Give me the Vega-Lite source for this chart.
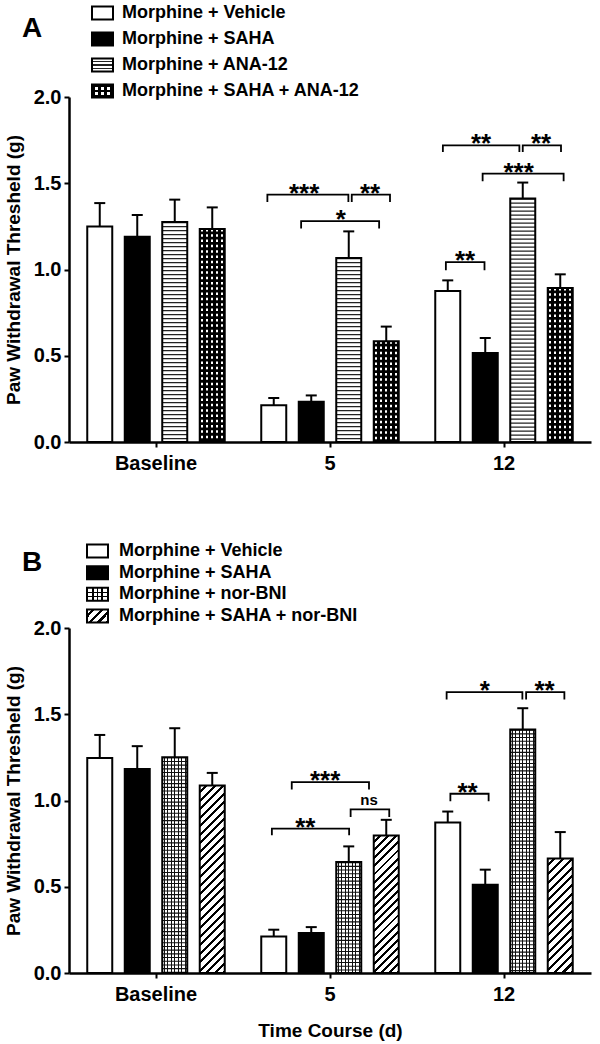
{
  "$schema": "https://vega.github.io/schema/vega-lite/v6.json",
  "background": "white",
  "padding": {"left": 4, "top": 2, "right": 5, "bottom": 3},
  "config": {
    "font": "Liberation Sans",
    "view": {"stroke": null},
    "axis": {"domainColor": "black", "domainWidth": 2.5, "tickColor": "black", "tickWidth": 2, "tickSize": 5, "labelColor": "black", "labelFont": "Liberation Sans", "labelFontSize": 20, "labelFontWeight": "bold", "titleFont": "Liberation Sans", "titleFontSize": 19, "titleFontWeight": "bold", "titleColor": "black", "grid": false, "labelPadding": 3}
  },
  "datasets": {
    "barsA": [
      {"time": "Baseline", "group": "Morphine + Vehicle", "mean": 1.25, "upper": 1.385},
      {"time": "Baseline", "group": "Morphine + SAHA", "mean": 1.19, "upper": 1.316},
      {"time": "Baseline", "group": "Morphine + ANA-12", "mean": 1.275, "upper": 1.405},
      {"time": "Baseline", "group": "Morphine + SAHA + ANA-12", "mean": 1.235, "upper": 1.36},
      {"time": "5", "group": "Morphine + Vehicle", "mean": 0.213, "upper": 0.255},
      {"time": "5", "group": "Morphine + SAHA", "mean": 0.234, "upper": 0.27},
      {"time": "5", "group": "Morphine + ANA-12", "mean": 1.067, "upper": 1.221},
      {"time": "5", "group": "Morphine + SAHA + ANA-12", "mean": 0.584, "upper": 0.669},
      {"time": "12", "group": "Morphine + Vehicle", "mean": 0.875, "upper": 0.937},
      {"time": "12", "group": "Morphine + SAHA", "mean": 0.516, "upper": 0.603},
      {"time": "12", "group": "Morphine + ANA-12", "mean": 1.411, "upper": 1.504},
      {"time": "12", "group": "Morphine + SAHA + ANA-12", "mean": 0.893, "upper": 0.972}
    ],
    "barsB": [
      {"time": "Baseline", "group": "Morphine + Vehicle", "mean": 1.247, "upper": 1.38},
      {"time": "Baseline", "group": "Morphine + SAHA", "mean": 1.183, "upper": 1.315},
      {"time": "Baseline", "group": "Morphine + nor-BNI", "mean": 1.251, "upper": 1.419},
      {"time": "Baseline", "group": "Morphine + SAHA + nor-BNI", "mean": 1.087, "upper": 1.16},
      {"time": "5", "group": "Morphine + Vehicle", "mean": 0.212, "upper": 0.251},
      {"time": "5", "group": "Morphine + SAHA", "mean": 0.232, "upper": 0.266},
      {"time": "5", "group": "Morphine + nor-BNI", "mean": 0.643, "upper": 0.734},
      {"time": "5", "group": "Morphine + SAHA + nor-BNI", "mean": 0.797, "upper": 0.888},
      {"time": "12", "group": "Morphine + Vehicle", "mean": 0.873, "upper": 0.936},
      {"time": "12", "group": "Morphine + SAHA", "mean": 0.512, "upper": 0.599},
      {"time": "12", "group": "Morphine + nor-BNI", "mean": 1.411, "upper": 1.535},
      {"time": "12", "group": "Morphine + SAHA + nor-BNI", "mean": 0.664, "upper": 0.817}
    ],
    "bracketsA": [
      {"id": "A1", "time": "5", "s": 0.83, "y": 1.391, "k": 1}, {"id": "A1", "time": "5", "s": 0.83, "y": 1.434, "k": 2}, {"id": "A1", "time": "5", "s": 2.99, "y": 1.434, "k": 3}, {"id": "A1", "time": "5", "s": 2.99, "y": 1.391, "k": 4},
      {"id": "A2", "time": "5", "s": 3.08, "y": 1.391, "k": 1}, {"id": "A2", "time": "5", "s": 3.08, "y": 1.434, "k": 2}, {"id": "A2", "time": "5", "s": 4.1, "y": 1.434, "k": 3}, {"id": "A2", "time": "5", "s": 4.1, "y": 1.391, "k": 4},
      {"id": "A3", "time": "5", "s": 1.73, "y": 1.237, "k": 1}, {"id": "A3", "time": "5", "s": 1.73, "y": 1.281, "k": 2}, {"id": "A3", "time": "5", "s": 3.81, "y": 1.281, "k": 3}, {"id": "A3", "time": "5", "s": 3.81, "y": 1.237, "k": 4},
      {"id": "A4", "time": "12", "s": 0.95, "y": 0.995, "k": 1}, {"id": "A4", "time": "12", "s": 0.95, "y": 1.043, "k": 2}, {"id": "A4", "time": "12", "s": 1.98, "y": 1.043, "k": 3}, {"id": "A4", "time": "12", "s": 1.98, "y": 0.995, "k": 4},
      {"id": "A5", "time": "12", "s": 0.87, "y": 1.681, "k": 1}, {"id": "A5", "time": "12", "s": 0.87, "y": 1.72, "k": 2}, {"id": "A5", "time": "12", "s": 2.91, "y": 1.72, "k": 3}, {"id": "A5", "time": "12", "s": 2.91, "y": 1.681, "k": 4},
      {"id": "A6", "time": "12", "s": 3.0, "y": 1.681, "k": 1}, {"id": "A6", "time": "12", "s": 3.0, "y": 1.72, "k": 2}, {"id": "A6", "time": "12", "s": 4.02, "y": 1.72, "k": 3}, {"id": "A6", "time": "12", "s": 4.02, "y": 1.681, "k": 4},
      {"id": "A7", "time": "12", "s": 1.93, "y": 1.511, "k": 1}, {"id": "A7", "time": "12", "s": 1.93, "y": 1.556, "k": 2}, {"id": "A7", "time": "12", "s": 4.09, "y": 1.556, "k": 3}, {"id": "A7", "time": "12", "s": 4.09, "y": 1.511, "k": 4}
    ],
    "labelsA": [
      {"time": "5", "s": 1.81, "y": 1.434, "label": "***"},
      {"time": "5", "s": 3.57, "y": 1.434, "label": "**"},
      {"time": "5", "s": 2.79, "y": 1.281, "label": "*"},
      {"time": "12", "s": 1.46, "y": 1.043, "label": "**"},
      {"time": "12", "s": 1.89, "y": 1.72, "label": "**"},
      {"time": "12", "s": 3.49, "y": 1.72, "label": "**"},
      {"time": "12", "s": 2.89, "y": 1.556, "label": "***"}
    ],
    "bracketsB": [
      {"id": "B1", "time": "5", "s": 0.95, "y": 0.798, "k": 1}, {"id": "B1", "time": "5", "s": 0.95, "y": 0.837, "k": 2}, {"id": "B1", "time": "5", "s": 3.01, "y": 0.837, "k": 3}, {"id": "B1", "time": "5", "s": 3.01, "y": 0.798, "k": 4},
      {"id": "B2", "time": "5", "s": 1.48, "y": 1.064, "k": 1}, {"id": "B2", "time": "5", "s": 1.48, "y": 1.107, "k": 2}, {"id": "B2", "time": "5", "s": 3.54, "y": 1.107, "k": 3}, {"id": "B2", "time": "5", "s": 3.54, "y": 1.064, "k": 4},
      {"id": "B3", "time": "5", "s": 3.05, "y": 0.904, "k": 1}, {"id": "B3", "time": "5", "s": 3.05, "y": 0.948, "k": 2}, {"id": "B3", "time": "5", "s": 4.08, "y": 0.948, "k": 3}, {"id": "B3", "time": "5", "s": 4.08, "y": 0.904, "k": 4},
      {"id": "B4", "time": "12", "s": 1.07, "y": 0.995, "k": 1}, {"id": "B4", "time": "12", "s": 1.07, "y": 1.039, "k": 2}, {"id": "B4", "time": "12", "s": 2.09, "y": 1.039, "k": 3}, {"id": "B4", "time": "12", "s": 2.09, "y": 0.995, "k": 4},
      {"id": "B5", "time": "12", "s": 0.97, "y": 1.586, "k": 1}, {"id": "B5", "time": "12", "s": 0.97, "y": 1.628, "k": 2}, {"id": "B5", "time": "12", "s": 2.99, "y": 1.628, "k": 3}, {"id": "B5", "time": "12", "s": 2.99, "y": 1.586, "k": 4},
      {"id": "B6", "time": "12", "s": 3.09, "y": 1.586, "k": 1}, {"id": "B6", "time": "12", "s": 3.09, "y": 1.628, "k": 2}, {"id": "B6", "time": "12", "s": 4.11, "y": 1.628, "k": 3}, {"id": "B6", "time": "12", "s": 4.11, "y": 1.586, "k": 4}
    ],
    "labelsB": [
      {"time": "5", "s": 1.84, "y": 0.837, "label": "**"},
      {"time": "5", "s": 2.37, "y": 1.107, "label": "***"},
      {"time": "5", "s": 3.54, "y": 0.948, "label": "ns"},
      {"time": "12", "s": 1.53, "y": 1.039, "label": "**"},
      {"time": "12", "s": 1.99, "y": 1.628, "label": "*"},
      {"time": "12", "s": 3.58, "y": 1.628, "label": "**"}
    ],
    "legendA": [
      {"group": "Morphine + Vehicle"}, {"group": "Morphine + SAHA"}, {"group": "Morphine + ANA-12"}, {"group": "Morphine + SAHA + ANA-12"}
    ],
    "legendB": [
      {"group": "Morphine + Vehicle"}, {"group": "Morphine + SAHA"}, {"group": "Morphine + nor-BNI"}, {"group": "Morphine + SAHA + nor-BNI"}
    ],
    "letterA": [{"letter": "A"}],
    "letterB": [{"letter": "B"}]
  },
  "bounds": "flush",
  "spacing": 6,
  "resolve": {"scale": {"xOffset": "independent"}},
  "vconcat": [
    {
      "width": 67,
      "height": 78,
      "layer": [
        {
          "data": {"name": "legendA"},
          "mark": {"type": "point", "shape": "M-1,-0.62L1,-0.62L1,0.62L-1,0.62Z", "size": 441, "filled": true, "opacity": 1, "strokeWidth": 0},
          "encoding": {
            "y": {"field": "group", "type": "nominal", "scale": {"type": "point", "padding": 0, "domain": ["Morphine + Vehicle", "Morphine + SAHA", "Morphine + ANA-12", "Morphine + SAHA + ANA-12"]}, "axis": null},
            "fill": {"condition": {"test": "datum.group === 'Morphine + SAHA' || datum.group === 'Morphine + SAHA + ANA-12'", "value": "black"}, "value": "white"}
          }
        },
        {
          "data": {"name": "legendA"},
          "transform": [{"filter": "datum.group === 'Morphine + ANA-12'"}],
          "mark": {"type": "point", "shape": "M-1,-0.62L1,-0.62L1,0.62L-1,0.62Z", "size": 441, "filled": true, "opacity": 1, "strokeWidth": 0,
            "fill": {"gradient": "linear", "x1": 0, "y1": 0, "x2": 0, "y2": 1, "stops": [
              {"offset": 0, "color": "#fff"}, {"offset": 0.21, "color": "#fff"}, {"offset": 0.21, "color": "#222"}, {"offset": 0.3, "color": "#222"}, {"offset": 0.3, "color": "#fff"},
              {"offset": 0.46, "color": "#fff"}, {"offset": 0.46, "color": "#222"}, {"offset": 0.55, "color": "#222"}, {"offset": 0.55, "color": "#fff"},
              {"offset": 0.71, "color": "#fff"}, {"offset": 0.71, "color": "#222"}, {"offset": 0.8, "color": "#222"}, {"offset": 0.8, "color": "#fff"}, {"offset": 1, "color": "#fff"}]}},
          "encoding": {"y": {"field": "group", "type": "nominal", "axis": null}}
        },
        {
          "data": {"name": "legendA"},
          "transform": [{"filter": "datum.group === 'Morphine + SAHA + ANA-12'"}],
          "mark": {"type": "point", "shape": "M-1,-0.62L1,-0.62L1,0.62L-1,0.62Z", "size": 441, "filled": true, "opacity": 1, "strokeWidth": 0,
            "fill": {"gradient": "linear", "x1": 0, "y1": 0, "x2": 0, "y2": 1, "stops": [
              {"offset": 0, "color": "#000"}, {"offset": 0.22, "color": "#000"}, {"offset": 0.22, "color": "#fff"}, {"offset": 0.42, "color": "#fff"}, {"offset": 0.42, "color": "#000"},
              {"offset": 0.58, "color": "#000"}, {"offset": 0.58, "color": "#fff"}, {"offset": 0.78, "color": "#fff"}, {"offset": 0.78, "color": "#000"}, {"offset": 1, "color": "#000"}]}},
          "encoding": {"y": {"field": "group", "type": "nominal", "axis": null}}
        },
        {
          "data": {"name": "legendA"},
          "transform": [{"filter": "datum.group === 'Morphine + SAHA + ANA-12'"}],
          "mark": {"type": "point", "shape": "M-1,-0.62L1,-0.62L1,0.62L-1,0.62Z", "size": 441, "filled": true, "opacity": 1, "strokeWidth": 0,
            "fill": {"gradient": "linear", "x1": 0, "y1": 0, "x2": 1, "y2": 0, "stops": [
              {"offset": 0, "color": "#000"}, {"offset": 0.15, "color": "#000"}, {"offset": 0.15, "color": "rgba(0,0,0,0)"}, {"offset": 0.3, "color": "rgba(0,0,0,0)"}, {"offset": 0.3, "color": "#000"},
              {"offset": 0.43, "color": "#000"}, {"offset": 0.43, "color": "rgba(0,0,0,0)"}, {"offset": 0.57, "color": "rgba(0,0,0,0)"}, {"offset": 0.57, "color": "#000"},
              {"offset": 0.7, "color": "#000"}, {"offset": 0.7, "color": "rgba(0,0,0,0)"}, {"offset": 0.85, "color": "rgba(0,0,0,0)"}, {"offset": 0.85, "color": "#000"}, {"offset": 1, "color": "#000"}]}},
          "encoding": {"y": {"field": "group", "type": "nominal", "axis": null}}
        },
        {
          "data": {"name": "legendA"},
          "mark": {"type": "point", "shape": "M-1,-0.62L1,-0.62L1,0.62L-1,0.62Z", "size": 441, "filled": false, "opacity": 1, "stroke": "black", "strokeWidth": 2},
          "encoding": {"y": {"field": "group", "type": "nominal", "axis": null}}
        },
        {
          "data": {"name": "legendA"},
          "mark": {"type": "text", "align": "left", "baseline": "middle", "dx": 19.5, "fontSize": 18, "fontWeight": "bold", "color": "black"},
          "encoding": {"y": {"field": "group", "type": "nominal", "axis": null}, "text": {"field": "group"}}
        },
        {
          "data": {"name": "letterA"},
          "mark": {"type": "text", "align": "center", "baseline": "middle", "dx": -70.5, "dy": -23, "fontSize": 28, "fontWeight": "bold", "color": "black"},
          "encoding": {"text": {"field": "letter"}}
        }
      ]
    },
    {
      "width": 522,
      "height": 345,
      "resolve": {"scale": {"xOffset": "independent"}},
      "encoding": {
        "x": {"field": "time", "type": "nominal", "scale": {"domain": ["Baseline", "5", "12"], "paddingInner": 0, "paddingOuter": 0}, "axis": {"title": null, "labelAngle": 0, "labelPadding": 6}},
        "y": {"field": "mean", "type": "quantitative", "scale": {"domain": [0, 2]}, "axis": {"title": "Paw Withdrawal Thresheld (g)", "values": [0, 0.5, 1, 1.5, 2], "format": ".1f", "titlePadding": 10}},
        "xOffset": {"field": "group", "type": "nominal", "scale": {"domain": ["Morphine + Vehicle", "Morphine + SAHA", "Morphine + ANA-12", "Morphine + SAHA + ANA-12"], "paddingInner": 0.3333, "paddingOuter": 0.4867}}
      },
      "layer": [
        {
          "data": {"name": "barsA"},
          "mark": {"type": "bar", "strokeWidth": 0},
          "encoding": {"fill": {"condition": {"test": "datum.group === 'Morphine + SAHA' || datum.group === 'Morphine + SAHA + ANA-12'", "value": "black"}, "value": "white"}}
        },
        {
          "data": {"name": "barsA"},
          "transform": [{"filter": "datum.group === 'Morphine + ANA-12'"}],
          "mark": {"type": "rule", "strokeWidth": 25, "strokeDash": [1.2, 2.8], "color": "#222"},
          "encoding": {"y2": {"datum": 0}}
        },
        {
          "data": {"name": "barsA"},
          "transform": [{"filter": "datum.group === 'Morphine + SAHA + ANA-12'"}],
          "mark": {"type": "rule", "strokeWidth": 25, "strokeDash": [2.5, 2.8], "color": "white"},
          "encoding": {"y2": {"datum": 0}}
        },
        {
          "data": {"name": "barsA"},
          "transform": [{"filter": "datum.group === 'Morphine + SAHA + ANA-12'"}],
          "mark": {"type": "bar", "strokeWidth": 0,
            "fill": {"gradient": "linear", "x1": 0, "y1": 0, "x2": 1, "y2": 0, "stops": [
              {"offset": 0, "color": "#000"}, {"offset": 0.05, "color": "#000"}, {"offset": 0.05, "color": "rgba(0,0,0,0)"}, {"offset": 0.15, "color": "rgba(0,0,0,0)"}, {"offset": 0.15, "color": "#000"},
              {"offset": 0.25, "color": "#000"}, {"offset": 0.25, "color": "rgba(0,0,0,0)"}, {"offset": 0.35, "color": "rgba(0,0,0,0)"}, {"offset": 0.35, "color": "#000"},
              {"offset": 0.45, "color": "#000"}, {"offset": 0.45, "color": "rgba(0,0,0,0)"}, {"offset": 0.55, "color": "rgba(0,0,0,0)"}, {"offset": 0.55, "color": "#000"},
              {"offset": 0.65, "color": "#000"}, {"offset": 0.65, "color": "rgba(0,0,0,0)"}, {"offset": 0.75, "color": "rgba(0,0,0,0)"}, {"offset": 0.75, "color": "#000"},
              {"offset": 0.85, "color": "#000"}, {"offset": 0.85, "color": "rgba(0,0,0,0)"}, {"offset": 0.95, "color": "rgba(0,0,0,0)"}, {"offset": 0.95, "color": "#000"}, {"offset": 1, "color": "#000"}]}}
        },
        {
          "data": {"name": "barsA"},
          "mark": {"type": "bar", "fill": "transparent", "stroke": "black", "strokeWidth": 2}
        },
        {
          "data": {"name": "barsA"},
          "mark": {"type": "rule", "strokeWidth": 2, "color": "black"},
          "encoding": {"y2": {"field": "upper"}}
        },
        {
          "data": {"name": "barsA"},
          "mark": {"type": "tick", "size": 11, "thickness": 2, "color": "black", "opacity": 1},
          "encoding": {"y": {"field": "upper", "type": "quantitative"}}
        },
        {
          "data": {"name": "bracketsA"},
          "mark": {"type": "line", "strokeWidth": 1.8, "color": "black"},
          "encoding": {
            "xOffset": {"field": "s", "type": "quantitative", "scale": {"domain": [0, 5], "range": [-6.75, 180.75]}},
            "y": {"field": "y", "type": "quantitative"},
            "detail": {"field": "id"},
            "order": {"field": "k", "type": "quantitative"}
          }
        },
        {
          "data": {"name": "labelsA"},
          "mark": {"type": "text", "fontSize": 26, "fontWeight": "bold", "baseline": "alphabetic", "dy": 7, "color": "black"},
          "encoding": {
            "xOffset": {"field": "s", "type": "quantitative", "scale": {"domain": [0, 5], "range": [-6.75, 180.75]}},
            "y": {"field": "y", "type": "quantitative"},
            "text": {"field": "label"}
          }
        }
      ]
    },
    {
      "width": 57,
      "height": 174,
      "layer": [
        {
          "data": {"name": "legendB"},
          "mark": {"type": "point", "shape": "M-1,-0.62L1,-0.62L1,0.62L-1,0.62Z", "size": 441, "filled": true, "opacity": 1, "strokeWidth": 0},
          "encoding": {
            "y": {"field": "group", "type": "nominal", "scale": {"type": "point", "padding": 0, "range": [103, 168], "domain": ["Morphine + Vehicle", "Morphine + SAHA", "Morphine + nor-BNI", "Morphine + SAHA + nor-BNI"]}, "axis": null},
            "fill": {"condition": {"test": "datum.group === 'Morphine + SAHA'", "value": "black"}, "value": "white"}
          }
        },
        {
          "data": {"name": "legendB"},
          "transform": [{"filter": "datum.group === 'Morphine + nor-BNI'"}],
          "mark": {"type": "point", "shape": "M-1,-0.62L1,-0.62L1,0.62L-1,0.62Z", "size": 441, "filled": true, "opacity": 1, "strokeWidth": 0,
            "fill": {"gradient": "linear", "x1": 0, "y1": 0, "x2": 0, "y2": 1, "stops": [
              {"offset": 0, "color": "#fff"}, {"offset": 0.3, "color": "#fff"}, {"offset": 0.3, "color": "#000"}, {"offset": 0.4, "color": "#000"}, {"offset": 0.4, "color": "#fff"},
              {"offset": 0.6, "color": "#fff"}, {"offset": 0.6, "color": "#000"}, {"offset": 0.7, "color": "#000"}, {"offset": 0.7, "color": "#fff"}, {"offset": 1, "color": "#fff"}]}},
          "encoding": {"y": {"field": "group", "type": "nominal", "axis": null}}
        },
        {
          "data": {"name": "legendB"},
          "transform": [{"filter": "datum.group === 'Morphine + nor-BNI'"}],
          "mark": {"type": "point", "shape": "M-1,-0.62L1,-0.62L1,0.62L-1,0.62Z", "size": 441, "filled": true, "opacity": 1, "strokeWidth": 0,
            "fill": {"gradient": "linear", "x1": 0, "y1": 0, "x2": 1, "y2": 0, "stops": [
              {"offset": 0, "color": "rgba(0,0,0,0)"}, {"offset": 0.23, "color": "rgba(0,0,0,0)"}, {"offset": 0.23, "color": "#000"}, {"offset": 0.31, "color": "#000"}, {"offset": 0.31, "color": "rgba(0,0,0,0)"},
              {"offset": 0.46, "color": "rgba(0,0,0,0)"}, {"offset": 0.46, "color": "#000"}, {"offset": 0.54, "color": "#000"}, {"offset": 0.54, "color": "rgba(0,0,0,0)"},
              {"offset": 0.69, "color": "rgba(0,0,0,0)"}, {"offset": 0.69, "color": "#000"}, {"offset": 0.77, "color": "#000"}, {"offset": 0.77, "color": "rgba(0,0,0,0)"}, {"offset": 1, "color": "rgba(0,0,0,0)"}]}},
          "encoding": {"y": {"field": "group", "type": "nominal", "axis": null}}
        },
        {
          "data": {"name": "legendB"},
          "transform": [{"filter": "datum.group === 'Morphine + SAHA + nor-BNI'"}],
          "mark": {"type": "point", "shape": "M-1,-0.62L1,-0.62L1,0.62L-1,0.62Z", "size": 441, "filled": true, "opacity": 1, "strokeWidth": 0,
            "fill": {"gradient": "linear", "x1": 0, "y1": 0, "x2": 1.1705, "y2": 0.7246, "stops": [
              {"offset": 0, "color": "#fff"}, {"offset": 0.15, "color": "#fff"}, {"offset": 0.15, "color": "#000"}, {"offset": 0.25, "color": "#000"}, {"offset": 0.25, "color": "#fff"},
              {"offset": 0.4, "color": "#fff"}, {"offset": 0.4, "color": "#000"}, {"offset": 0.5, "color": "#000"}, {"offset": 0.5, "color": "#fff"},
              {"offset": 0.65, "color": "#fff"}, {"offset": 0.65, "color": "#000"}, {"offset": 0.75, "color": "#000"}, {"offset": 0.75, "color": "#fff"},
              {"offset": 0.9, "color": "#fff"}, {"offset": 0.9, "color": "#000"}, {"offset": 1, "color": "#000"}]}},
          "encoding": {"y": {"field": "group", "type": "nominal", "axis": null}}
        },
        {
          "data": {"name": "legendB"},
          "mark": {"type": "point", "shape": "M-1,-0.62L1,-0.62L1,0.62L-1,0.62Z", "size": 441, "filled": false, "opacity": 1, "stroke": "black", "strokeWidth": 2},
          "encoding": {"y": {"field": "group", "type": "nominal", "axis": null}}
        },
        {
          "data": {"name": "legendB"},
          "mark": {"type": "text", "align": "left", "baseline": "middle", "dx": 21.5, "fontSize": 18, "fontWeight": "bold", "color": "black"},
          "encoding": {"y": {"field": "group", "type": "nominal", "axis": null}, "text": {"field": "group"}}
        },
        {
          "data": {"name": "letterB"},
          "mark": {"type": "text", "align": "center", "baseline": "middle", "dx": -65.5, "dy": 28, "fontSize": 28, "fontWeight": "bold", "color": "black"},
          "encoding": {"text": {"field": "letter"}}
        }
      ]
    },
    {
      "width": 522,
      "height": 345,
      "resolve": {"scale": {"xOffset": "independent"}},
      "encoding": {
        "x": {"field": "time", "type": "nominal", "scale": {"domain": ["Baseline", "5", "12"], "paddingInner": 0, "paddingOuter": 0}, "axis": {"title": "Time Course (d)", "labelAngle": 0, "labelPadding": 6, "titlePadding": 17}},
        "y": {"field": "mean", "type": "quantitative", "scale": {"domain": [0, 2]}, "axis": {"title": "Paw Withdrawal Thresheld (g)", "values": [0, 0.5, 1, 1.5, 2], "format": ".1f", "titlePadding": 10}},
        "xOffset": {"field": "group", "type": "nominal", "scale": {"domain": ["Morphine + Vehicle", "Morphine + SAHA", "Morphine + nor-BNI", "Morphine + SAHA + nor-BNI"], "paddingInner": 0.3333, "paddingOuter": 0.4867}}
      },
      "layer": [
        {
          "data": {"name": "barsB"},
          "mark": {"type": "bar", "strokeWidth": 0},
          "encoding": {"fill": {"condition": {"test": "datum.group === 'Morphine + SAHA'", "value": "black"}, "value": "white"}}
        },
        {
          "data": {"name": "barsB"},
          "transform": [{"filter": "datum.group === 'Morphine + nor-BNI'"}],
          "mark": {"type": "rule", "strokeWidth": 25, "strokeDash": [1.1, 2.6], "color": "#111"},
          "encoding": {"y2": {"datum": 0}}
        },
        {
          "data": {"name": "barsB"},
          "transform": [{"filter": "datum.group === 'Morphine + nor-BNI'"}],
          "mark": {"type": "bar", "strokeWidth": 0,
            "fill": {"gradient": "linear", "x1": 0, "y1": 0, "x2": 1, "y2": 0, "stops": [
              {"offset": 0, "color": "rgba(0,0,0,0)"}, {"offset": 0.0514, "color": "rgba(0,0,0,0)"}, {"offset": 0.0514, "color": "#111"}, {"offset": 0.0914, "color": "#111"}, {"offset": 0.0914, "color": "rgba(0,0,0,0)"},
              {"offset": 0.1943, "color": "rgba(0,0,0,0)"}, {"offset": 0.1943, "color": "#111"}, {"offset": 0.2343, "color": "#111"}, {"offset": 0.2343, "color": "rgba(0,0,0,0)"},
              {"offset": 0.3371, "color": "rgba(0,0,0,0)"}, {"offset": 0.3371, "color": "#111"}, {"offset": 0.3771, "color": "#111"}, {"offset": 0.3771, "color": "rgba(0,0,0,0)"},
              {"offset": 0.48, "color": "rgba(0,0,0,0)"}, {"offset": 0.48, "color": "#111"}, {"offset": 0.52, "color": "#111"}, {"offset": 0.52, "color": "rgba(0,0,0,0)"},
              {"offset": 0.6229, "color": "rgba(0,0,0,0)"}, {"offset": 0.6229, "color": "#111"}, {"offset": 0.6629, "color": "#111"}, {"offset": 0.6629, "color": "rgba(0,0,0,0)"},
              {"offset": 0.7657, "color": "rgba(0,0,0,0)"}, {"offset": 0.7657, "color": "#111"}, {"offset": 0.8057, "color": "#111"}, {"offset": 0.8057, "color": "rgba(0,0,0,0)"},
              {"offset": 0.9086, "color": "rgba(0,0,0,0)"}, {"offset": 0.9086, "color": "#111"}, {"offset": 0.9486, "color": "#111"}, {"offset": 0.9486, "color": "rgba(0,0,0,0)"}, {"offset": 1, "color": "rgba(0,0,0,0)"}]}}
        },
        {
          "data": {"name": "barsB"},
          "transform": [{"filter": "datum.group === 'Morphine + SAHA + nor-BNI' && datum.time === 'Baseline'"}],
          "mark": {"type": "bar", "strokeWidth": 0,
            "fill": {"gradient": "linear", "x1": 0, "y1": 0, "x2": 0.1485, "y2": 1.1135, "stops": [
              {"offset": 0, "color": "#fff"},
              {"offset": 0.026, "color": "#fff"}, {"offset": 0.026, "color": "#000"}, {"offset": 0.04, "color": "#000"}, {"offset": 0.04, "color": "#fff"},
              {"offset": 0.066, "color": "#fff"}, {"offset": 0.066, "color": "#000"}, {"offset": 0.08, "color": "#000"}, {"offset": 0.08, "color": "#fff"},
              {"offset": 0.106, "color": "#fff"}, {"offset": 0.106, "color": "#000"}, {"offset": 0.12, "color": "#000"}, {"offset": 0.12, "color": "#fff"},
              {"offset": 0.146, "color": "#fff"}, {"offset": 0.146, "color": "#000"}, {"offset": 0.16, "color": "#000"}, {"offset": 0.16, "color": "#fff"},
              {"offset": 0.186, "color": "#fff"}, {"offset": 0.186, "color": "#000"}, {"offset": 0.2, "color": "#000"}, {"offset": 0.2, "color": "#fff"},
              {"offset": 0.226, "color": "#fff"}, {"offset": 0.226, "color": "#000"}, {"offset": 0.24, "color": "#000"}, {"offset": 0.24, "color": "#fff"},
              {"offset": 0.266, "color": "#fff"}, {"offset": 0.266, "color": "#000"}, {"offset": 0.28, "color": "#000"}, {"offset": 0.28, "color": "#fff"},
              {"offset": 0.306, "color": "#fff"}, {"offset": 0.306, "color": "#000"}, {"offset": 0.32, "color": "#000"}, {"offset": 0.32, "color": "#fff"},
              {"offset": 0.346, "color": "#fff"}, {"offset": 0.346, "color": "#000"}, {"offset": 0.36, "color": "#000"}, {"offset": 0.36, "color": "#fff"},
              {"offset": 0.386, "color": "#fff"}, {"offset": 0.386, "color": "#000"}, {"offset": 0.4, "color": "#000"}, {"offset": 0.4, "color": "#fff"},
              {"offset": 0.426, "color": "#fff"}, {"offset": 0.426, "color": "#000"}, {"offset": 0.44, "color": "#000"}, {"offset": 0.44, "color": "#fff"},
              {"offset": 0.466, "color": "#fff"}, {"offset": 0.466, "color": "#000"}, {"offset": 0.48, "color": "#000"}, {"offset": 0.48, "color": "#fff"},
              {"offset": 0.506, "color": "#fff"}, {"offset": 0.506, "color": "#000"}, {"offset": 0.52, "color": "#000"}, {"offset": 0.52, "color": "#fff"},
              {"offset": 0.546, "color": "#fff"}, {"offset": 0.546, "color": "#000"}, {"offset": 0.56, "color": "#000"}, {"offset": 0.56, "color": "#fff"},
              {"offset": 0.586, "color": "#fff"}, {"offset": 0.586, "color": "#000"}, {"offset": 0.6, "color": "#000"}, {"offset": 0.6, "color": "#fff"},
              {"offset": 0.626, "color": "#fff"}, {"offset": 0.626, "color": "#000"}, {"offset": 0.64, "color": "#000"}, {"offset": 0.64, "color": "#fff"},
              {"offset": 0.666, "color": "#fff"}, {"offset": 0.666, "color": "#000"}, {"offset": 0.68, "color": "#000"}, {"offset": 0.68, "color": "#fff"},
              {"offset": 0.706, "color": "#fff"}, {"offset": 0.706, "color": "#000"}, {"offset": 0.72, "color": "#000"}, {"offset": 0.72, "color": "#fff"},
              {"offset": 0.746, "color": "#fff"}, {"offset": 0.746, "color": "#000"}, {"offset": 0.76, "color": "#000"}, {"offset": 0.76, "color": "#fff"},
              {"offset": 0.786, "color": "#fff"}, {"offset": 0.786, "color": "#000"}, {"offset": 0.8, "color": "#000"}, {"offset": 0.8, "color": "#fff"},
              {"offset": 0.826, "color": "#fff"}, {"offset": 0.826, "color": "#000"}, {"offset": 0.84, "color": "#000"}, {"offset": 0.84, "color": "#fff"},
              {"offset": 0.866, "color": "#fff"}, {"offset": 0.866, "color": "#000"}, {"offset": 0.88, "color": "#000"}, {"offset": 0.88, "color": "#fff"},
              {"offset": 0.906, "color": "#fff"}, {"offset": 0.906, "color": "#000"}, {"offset": 0.92, "color": "#000"}, {"offset": 0.92, "color": "#fff"},
              {"offset": 0.946, "color": "#fff"}, {"offset": 0.946, "color": "#000"}, {"offset": 0.96, "color": "#000"}, {"offset": 0.96, "color": "#fff"},
              {"offset": 0.986, "color": "#fff"}, {"offset": 0.986, "color": "#000"}, {"offset": 1, "color": "#000"}]}}
        },
        {
          "data": {"name": "barsB"},
          "transform": [{"filter": "datum.group === 'Morphine + SAHA + nor-BNI' && datum.time === '5'"}],
          "mark": {"type": "bar", "strokeWidth": 0,
            "fill": {"gradient": "linear", "x1": 0, "y1": 0, "x2": 0.208, "y2": 1.144, "stops": [
              {"offset": 0, "color": "#fff"},
              {"offset": 0.0325, "color": "#fff"}, {"offset": 0.0325, "color": "#000"}, {"offset": 0.05, "color": "#000"}, {"offset": 0.05, "color": "#fff"},
              {"offset": 0.0825, "color": "#fff"}, {"offset": 0.0825, "color": "#000"}, {"offset": 0.1, "color": "#000"}, {"offset": 0.1, "color": "#fff"},
              {"offset": 0.1325, "color": "#fff"}, {"offset": 0.1325, "color": "#000"}, {"offset": 0.15, "color": "#000"}, {"offset": 0.15, "color": "#fff"},
              {"offset": 0.1825, "color": "#fff"}, {"offset": 0.1825, "color": "#000"}, {"offset": 0.2, "color": "#000"}, {"offset": 0.2, "color": "#fff"},
              {"offset": 0.2325, "color": "#fff"}, {"offset": 0.2325, "color": "#000"}, {"offset": 0.25, "color": "#000"}, {"offset": 0.25, "color": "#fff"},
              {"offset": 0.2825, "color": "#fff"}, {"offset": 0.2825, "color": "#000"}, {"offset": 0.3, "color": "#000"}, {"offset": 0.3, "color": "#fff"},
              {"offset": 0.3325, "color": "#fff"}, {"offset": 0.3325, "color": "#000"}, {"offset": 0.35, "color": "#000"}, {"offset": 0.35, "color": "#fff"},
              {"offset": 0.3825, "color": "#fff"}, {"offset": 0.3825, "color": "#000"}, {"offset": 0.4, "color": "#000"}, {"offset": 0.4, "color": "#fff"},
              {"offset": 0.4325, "color": "#fff"}, {"offset": 0.4325, "color": "#000"}, {"offset": 0.45, "color": "#000"}, {"offset": 0.45, "color": "#fff"},
              {"offset": 0.4825, "color": "#fff"}, {"offset": 0.4825, "color": "#000"}, {"offset": 0.5, "color": "#000"}, {"offset": 0.5, "color": "#fff"},
              {"offset": 0.5325, "color": "#fff"}, {"offset": 0.5325, "color": "#000"}, {"offset": 0.55, "color": "#000"}, {"offset": 0.55, "color": "#fff"},
              {"offset": 0.5825, "color": "#fff"}, {"offset": 0.5825, "color": "#000"}, {"offset": 0.6, "color": "#000"}, {"offset": 0.6, "color": "#fff"},
              {"offset": 0.6325, "color": "#fff"}, {"offset": 0.6325, "color": "#000"}, {"offset": 0.65, "color": "#000"}, {"offset": 0.65, "color": "#fff"},
              {"offset": 0.6825, "color": "#fff"}, {"offset": 0.6825, "color": "#000"}, {"offset": 0.7, "color": "#000"}, {"offset": 0.7, "color": "#fff"},
              {"offset": 0.7325, "color": "#fff"}, {"offset": 0.7325, "color": "#000"}, {"offset": 0.75, "color": "#000"}, {"offset": 0.75, "color": "#fff"},
              {"offset": 0.7825, "color": "#fff"}, {"offset": 0.7825, "color": "#000"}, {"offset": 0.8, "color": "#000"}, {"offset": 0.8, "color": "#fff"},
              {"offset": 0.8325, "color": "#fff"}, {"offset": 0.8325, "color": "#000"}, {"offset": 0.85, "color": "#000"}, {"offset": 0.85, "color": "#fff"},
              {"offset": 0.8825, "color": "#fff"}, {"offset": 0.8825, "color": "#000"}, {"offset": 0.9, "color": "#000"}, {"offset": 0.9, "color": "#fff"},
              {"offset": 0.9325, "color": "#fff"}, {"offset": 0.9325, "color": "#000"}, {"offset": 0.95, "color": "#000"}, {"offset": 0.95, "color": "#fff"},
              {"offset": 0.9825, "color": "#fff"}, {"offset": 0.9825, "color": "#000"}, {"offset": 1, "color": "#000"}]}}
        },
        {
          "data": {"name": "barsB"},
          "transform": [{"filter": "datum.group === 'Morphine + SAHA + nor-BNI' && datum.time === '12'"}],
          "mark": {"type": "bar", "strokeWidth": 0,
            "fill": {"gradient": "linear", "x1": 0, "y1": 0, "x2": 0.2538, "y2": 1.1629, "stops": [
              {"offset": 0, "color": "#fff"},
              {"offset": 0.0406, "color": "#fff"}, {"offset": 0.0406, "color": "#000"}, {"offset": 0.0625, "color": "#000"}, {"offset": 0.0625, "color": "#fff"},
              {"offset": 0.1031, "color": "#fff"}, {"offset": 0.1031, "color": "#000"}, {"offset": 0.125, "color": "#000"}, {"offset": 0.125, "color": "#fff"},
              {"offset": 0.1656, "color": "#fff"}, {"offset": 0.1656, "color": "#000"}, {"offset": 0.1875, "color": "#000"}, {"offset": 0.1875, "color": "#fff"},
              {"offset": 0.2281, "color": "#fff"}, {"offset": 0.2281, "color": "#000"}, {"offset": 0.25, "color": "#000"}, {"offset": 0.25, "color": "#fff"},
              {"offset": 0.2906, "color": "#fff"}, {"offset": 0.2906, "color": "#000"}, {"offset": 0.3125, "color": "#000"}, {"offset": 0.3125, "color": "#fff"},
              {"offset": 0.3531, "color": "#fff"}, {"offset": 0.3531, "color": "#000"}, {"offset": 0.375, "color": "#000"}, {"offset": 0.375, "color": "#fff"},
              {"offset": 0.4156, "color": "#fff"}, {"offset": 0.4156, "color": "#000"}, {"offset": 0.4375, "color": "#000"}, {"offset": 0.4375, "color": "#fff"},
              {"offset": 0.4781, "color": "#fff"}, {"offset": 0.4781, "color": "#000"}, {"offset": 0.5, "color": "#000"}, {"offset": 0.5, "color": "#fff"},
              {"offset": 0.5406, "color": "#fff"}, {"offset": 0.5406, "color": "#000"}, {"offset": 0.5625, "color": "#000"}, {"offset": 0.5625, "color": "#fff"},
              {"offset": 0.6031, "color": "#fff"}, {"offset": 0.6031, "color": "#000"}, {"offset": 0.625, "color": "#000"}, {"offset": 0.625, "color": "#fff"},
              {"offset": 0.6656, "color": "#fff"}, {"offset": 0.6656, "color": "#000"}, {"offset": 0.6875, "color": "#000"}, {"offset": 0.6875, "color": "#fff"},
              {"offset": 0.7281, "color": "#fff"}, {"offset": 0.7281, "color": "#000"}, {"offset": 0.75, "color": "#000"}, {"offset": 0.75, "color": "#fff"},
              {"offset": 0.7906, "color": "#fff"}, {"offset": 0.7906, "color": "#000"}, {"offset": 0.8125, "color": "#000"}, {"offset": 0.8125, "color": "#fff"},
              {"offset": 0.8531, "color": "#fff"}, {"offset": 0.8531, "color": "#000"}, {"offset": 0.875, "color": "#000"}, {"offset": 0.875, "color": "#fff"},
              {"offset": 0.9156, "color": "#fff"}, {"offset": 0.9156, "color": "#000"}, {"offset": 0.9375, "color": "#000"}, {"offset": 0.9375, "color": "#fff"},
              {"offset": 0.9781, "color": "#fff"}, {"offset": 0.9781, "color": "#000"}, {"offset": 1, "color": "#000"}]}}
        },
        {
          "data": {"name": "barsB"},
          "mark": {"type": "bar", "fill": "transparent", "stroke": "black", "strokeWidth": 2}
        },
        {
          "data": {"name": "barsB"},
          "mark": {"type": "rule", "strokeWidth": 2, "color": "black"},
          "encoding": {"y2": {"field": "upper"}}
        },
        {
          "data": {"name": "barsB"},
          "mark": {"type": "tick", "size": 11, "thickness": 2, "color": "black", "opacity": 1},
          "encoding": {"y": {"field": "upper", "type": "quantitative"}}
        },
        {
          "data": {"name": "bracketsB"},
          "mark": {"type": "line", "strokeWidth": 1.8, "color": "black"},
          "encoding": {
            "xOffset": {"field": "s", "type": "quantitative", "scale": {"domain": [0, 5], "range": [-6.75, 180.75]}},
            "y": {"field": "y", "type": "quantitative"},
            "detail": {"field": "id"},
            "order": {"field": "k", "type": "quantitative"}
          }
        },
        {
          "data": {"name": "labelsB"},
          "transform": [{"filter": "datum.label !== 'ns'"}],
          "mark": {"type": "text", "fontSize": 26, "fontWeight": "bold", "baseline": "alphabetic", "dy": 7, "color": "black"},
          "encoding": {
            "xOffset": {"field": "s", "type": "quantitative", "scale": {"domain": [0, 5], "range": [-6.75, 180.75]}},
            "y": {"field": "y", "type": "quantitative"},
            "text": {"field": "label"}
          }
        },
        {
          "data": {"name": "labelsB"},
          "transform": [{"filter": "datum.label === 'ns'"}],
          "mark": {"type": "text", "fontSize": 15, "fontWeight": "bold", "baseline": "alphabetic", "dy": -4, "color": "black"},
          "encoding": {
            "xOffset": {"field": "s", "type": "quantitative", "scale": {"domain": [0, 5], "range": [-6.75, 180.75]}},
            "y": {"field": "y", "type": "quantitative"},
            "text": {"field": "label"}
          }
        }
      ]
    }
  ]
}
